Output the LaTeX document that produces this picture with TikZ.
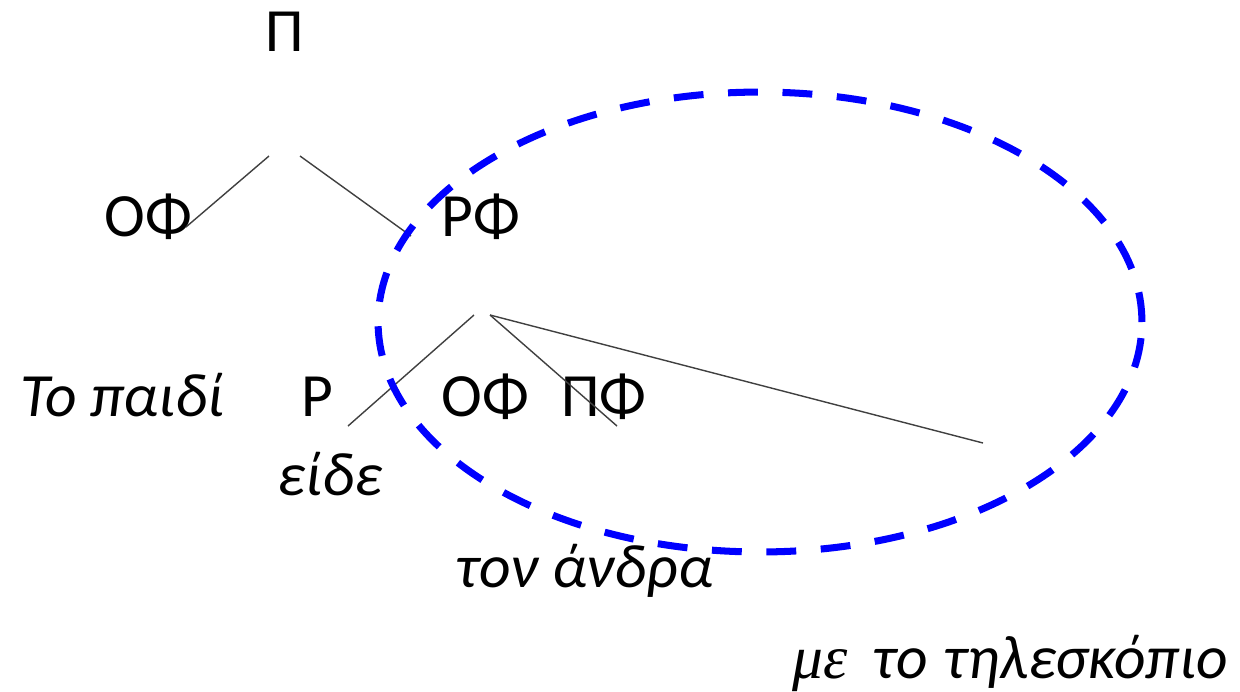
\documentclass[tikz,border=0pt]{standalone}
\usepackage{fontspec}
\setmainfont{Carlito}
\newfontfamily\grserif{Liberation Serif}
\begin{document}
\begin{tikzpicture}[x=0.02cm,y=-0.02cm,
  lbl/.style={inner sep=0pt, anchor=base west, font=\fontsize{35}{42}\selectfont},
  ilbl/.style={inner sep=0pt, anchor=base west, font=\fontsize{35}{42}\selectfont\itshape},
  branch/.style={draw=black!75, line width=0.8pt},
  ring/.style={draw=blue, line width=4pt, dash pattern=on 17pt off 14pt}]
\useasboundingbox (0,0) rectangle (1240,691);
% labels
\node[lbl] (S) at (265,51) {Π};
\node[lbl] (NP1) at (104,236) {ΟΦ};
\node[lbl] (VP) at (441,236) {ΡΦ};
\node[ilbl] (w1) at (20,416) {Το παιδί};
\node[lbl] (V) at (301,416) {Ρ};
\node[lbl] (NP2) at (441,416) {ΟΦ};
\node[lbl] (PP) at (561,416) {ΠΦ};
\node[ilbl] (w2) at (277,495) {είδε};
\node[ilbl] (w3) at (455,587) {τον άνδρα};
\node[ilbl] (w4) at (792,678) {{\grserif\itshape με}\hspace{0.22cm} το\hspace{0.04cm} τηλεσκόπιο};
% branch ends
\coordinate (s1) at (269,156);
\coordinate (s2) at (300,156);
\coordinate (np1e) at (186,227);
\coordinate (vpe) at (411,236);
\coordinate (v1) at (474,315);
\coordinate (v2) at (490,315);
\coordinate (ve) at (348,426);
\coordinate (ppe) at (617,426);
\coordinate (le) at (983,443);
\draw[branch] (s1) -- (np1e);
\draw[branch] (s2) -- (vpe);
\draw[branch] (v1) -- (ve);
\draw[branch] (v2) -- (ppe);
\draw[branch] (v2) -- (le);
% dashed ellipse
\draw[ring] (760,322) ellipse [x radius=7.64cm, y radius=4.6cm];
\end{tikzpicture}
\end{document}
